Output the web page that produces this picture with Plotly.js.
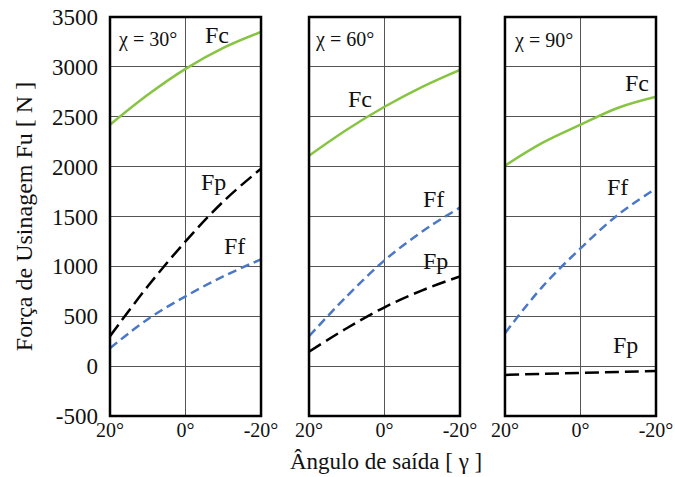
<!DOCTYPE html>
<html>
<head>
<meta charset="utf-8">
<script src="https://cdn.plot.ly/plotly-3.0.1.min.js"></script>
<style>html,body{margin:0;padding:0;background:#fff;}#chart{width:675px;height:477px;}</style>
</head>
<body>
<div id="chart"></div>
<script>
// Rake angle (degrees)
const angles = [20, 10, 0, -10, -20];
const angleTickVals = [20, 0, -20];
const angleTickText = ["20°", "0°", "-20°"];
const forceTickVals = [-500, 0, 500, 1000, 1500, 2000, 2500, 3000, 3500];
const forceTickText = ["-500", "0", "500", "1000", "1500", "2000", "2500", "3000", "3500"];

// chi = 30°
const fc30 = [2420, 2720, 2980, 3190, 3350];
const fp30 = [300, 800, 1250, 1650, 1980];
const ff30 = [180, 470, 700, 900, 1070];
// chi = 60°
const fc60 = [2110, 2370, 2600, 2800, 2970];
const fp60 = [145, 380, 590, 760, 900];
const ff60 = [300, 700, 1060, 1350, 1590];
// chi = 90°
const fc90 = [2010, 2240, 2420, 2590, 2700];
const fp90 = [-88, -78, -68, -58, -50];
const ff90 = [330, 800, 1180, 1520, 1780];

const panelTitles = ["χ = 30°", "χ = 60°", "χ = 90°"];

const green = "#86c441", blue = "#4a78c6", black = "#000000";
const serif = "'Liberation Serif', 'Times New Roman', serif";
const txt = "#111111";

function tr(y, xa, ya, color, dash) {
  return {x: angles, y: y, xaxis: xa, yaxis: ya, type: "scatter", mode: "lines",
          line: {color: color, width: 2.5, dash: dash, shape: "spline"},
          hoverinfo: "skip", showlegend: false};
}
const data = [
  tr(fc30, "x", "y", green, "solid"), tr(fp30, "x", "y", black, "14px,6px"), tr(ff30, "x", "y", blue, "9px,5px"),
  tr(fc60, "x2", "y2", green, "solid"), tr(fp60, "x2", "y2", black, "14px,6px"), tr(ff60, "x2", "y2", blue, "9px,5px"),
  tr(fc90, "x3", "y3", green, "solid"), tr(fp90, "x3", "y3", black, "14px,6px"), tr(ff90, "x3", "y3", blue, "9px,5px")
];

function xax(dom, anchor) {
  return {domain: dom, anchor: anchor, range: [20, -20], tickmode: "array",
          tickvals: angleTickVals, ticktext: angleTickText, showgrid: true,
          gridcolor: "#555", gridwidth: 1, zeroline: false, showline: false, ticks: "",
          tickfont: {family: serif, size: 20, color: txt}, fixedrange: true};
}
function yax(anchor, labels) {
  return {anchor: anchor, range: [-500, 3500], tickmode: "array", tickvals: forceTickVals,
          ticktext: forceTickText,
          showgrid: true, gridcolor: "#555", gridwidth: 1, zeroline: false, showline: false,
          ticks: "", showticklabels: labels, ticklabelstandoff: 11,
          tickfont: {family: serif, size: 23, color: txt}, fixedrange: true};
}

function ann(text, xa, ya, x, y, size) {
  return {text: text, xref: xa, yref: ya, x: x, y: y, showarrow: false,
          font: {family: serif, size: size, color: txt}};
}

const doms = [[0, 0.2766], [0.3645, 0.641], [0.7234, 1]];
const layout = {
  width: 675, height: 477,
  margin: {l: 110, r: 19, t: 17, b: 61},
  paper_bgcolor: "#fff", plot_bgcolor: "#fff",
  font: {family: serif, color: txt},
  xaxis: xax(doms[0], "y"), xaxis2: xax(doms[1], "y2"), xaxis3: xax(doms[2], "y3"),
  yaxis: Object.assign(yax("x", true), {title: {text: "Força de Usinagem Fu [ N ]", font: {family: serif, size: 24, color: txt}, standoff: 12}}),
  yaxis2: yax("x2", false), yaxis3: yax("x3", false),
  shapes: [["x","y"],["x2","y2"],["x3","y3"]].map(p => ({type: "rect", xref: p[0] + " domain", yref: p[1] + " domain",
      x0: 0, x1: 1, y0: 0, y1: 1, line: {color: "#000", width: 2.5}})),
  annotations: [
    {text: "Ângulo de saída [ γ ]", xref: "paper", yref: "paper", x: 0.505, y: -0.115, yanchor: "middle", showarrow: false,
     font: {family: serif, size: 23, color: txt}},
    ann(panelTitles[0], "x", "y", 10.2, 3270, 20),
    ann(panelTitles[1], "x2", "y2", 10.7, 3270, 20),
    ann(panelTitles[2], "x3", "y3", 9.7, 3260, 20),
    ann("Fc", "x", "y", -8.3, 3320, 24),
    ann("Fp", "x", "y", -7.5, 1850, 24),
    ann("Ff", "x", "y", -13, 1200, 24),
    ann("Fc", "x2", "y2", 6.5, 2680, 24),
    ann("Ff", "x2", "y2", -13, 1680, 24),
    ann("Fp", "x2", "y2", -13.6, 1050, 24),
    ann("Fc", "x3", "y3", -15, 2840, 24),
    ann("Ff", "x3", "y3", -9.8, 1800, 24),
    ann("Fp", "x3", "y3", -12, 210, 24)
  ]
};
Plotly.newPlot("chart", data, layout, {staticPlot: true, displayModeBar: false});
</script>
</body>
</html>
